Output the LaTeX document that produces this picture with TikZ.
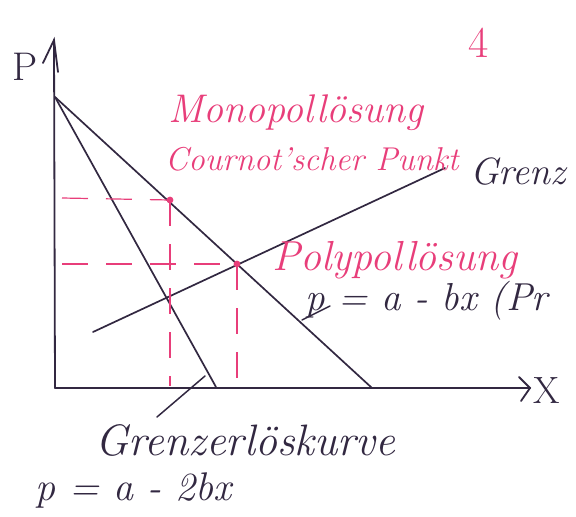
\documentclass[tikz,border=0pt]{standalone}
\usepackage{fontspec}
\usetikzlibrary{arrows.meta}
\definecolor{ink}{RGB}{50,40,65}
\definecolor{pinkink}{RGB}{232,62,122}
\begin{document}
\begin{tikzpicture}[x=1pt,y=-1pt,
  axisline/.style={ink,line width=1.8pt,line cap=round},
  curve/.style={ink,line width=1.7pt,line cap=round},
  guide/.style={pinkink,line width=1.2pt,dash pattern=on 26pt off 18pt},
  pt/.style={circle,fill=pinkink,inner sep=2.4pt},
  hand/.style={ink,inner sep=0pt,anchor=base west,font=\itshape\fontsize{38}{38}\selectfont},
  handpink/.style={hand,pinkink},
  lead/.style={ink,line width=1.5pt,line cap=round}]
\useasboundingbox (0,0) rectangle (576,517);
% axes
\coordinate (O) at (55,388);
\coordinate (Ytop) at (54,40);
\coordinate (Xend) at (530,388);
\draw[axisline] (O) -- (Ytop);
\draw[axisline] (O) -- (Xend);
\coordinate (yb1) at (43,63);
\coordinate (yb2) at (58,72);
\draw[axisline] (yb1) -- (Ytop) -- (yb2);
\coordinate (xb1) at (519,377);
\coordinate (xb2) at (521,401);
\draw[axisline] (xb1) -- (Xend) -- (xb2);
% curves
\coordinate (A) at (55,97);
\coordinate (Dend) at (372,388);
\coordinate (MRend) at (216,387);
\coordinate (MC1) at (93,332);
\coordinate (MC2) at (445,168);
\draw[curve] (A) -- (Dend);
\draw[curve] (A) -- (MRend);
\draw[curve] (MC1) -- (MC2);
% points
\node[pt] (M) at (170,200) {};
\node[pt] (Pp) at (237,264) {};
\coordinate (M0) at (62,198);
\coordinate (Mx) at (170,386);
\coordinate (P0) at (62,264);
\coordinate (Px) at (237,386);
\draw[guide] (M0) -- (M.center);
\draw[guide] (M.center) -- (Mx);
\draw[guide] (P0) -- (Pp.center);
\draw[guide] (Pp.center) -- (Px);
% labels
\node[hand,font=\fontsize{40}{40}\selectfont] (lP) at (12,80) {P};
\node[hand,font=\fontsize{38}{38}\selectfont] (lX) at (533,403) {X};
\node[handpink,font=\fontsize{44}{44}\selectfont] (l4) at (468,57) {4};
\node[handpink,font=\itshape\fontsize{40}{40}\selectfont] (lmono) at (168,122) {Monopollösung};
\node[handpink,font=\itshape\fontsize{33}{33}\selectfont] (lcour) at (165,170) {Cournot'scher Punkt};
\node[hand,font=\itshape\fontsize{38}{38}\selectfont] (lgrenz) at (470,184) {Grenz};
\node[handpink,font=\itshape\fontsize{42}{42}\selectfont] (lpoly) at (272,270) {Polypollösung};
\node[hand,font=\itshape\fontsize{39}{39}\selectfont] (ldem) at (305,310) {p = a - bx (Pr};
\node[hand,font=\itshape\fontsize{44}{44}\selectfont] (lmr) at (95,455) {Grenzerlöskurve};
\node[hand,font=\itshape\fontsize{40}{40}\selectfont] (lmreq) at (35,500) {p = a - 2bx};
% leaders
\coordinate (L1a) at (157,417);
\coordinate (L1b) at (205,376);
\draw[lead] (L1a) -- (L1b);
\coordinate (L2a) at (302,320);
\coordinate (L2b) at (330,306);
\draw[lead] (L2a) -- (L2b);
\end{tikzpicture}
\end{document}
